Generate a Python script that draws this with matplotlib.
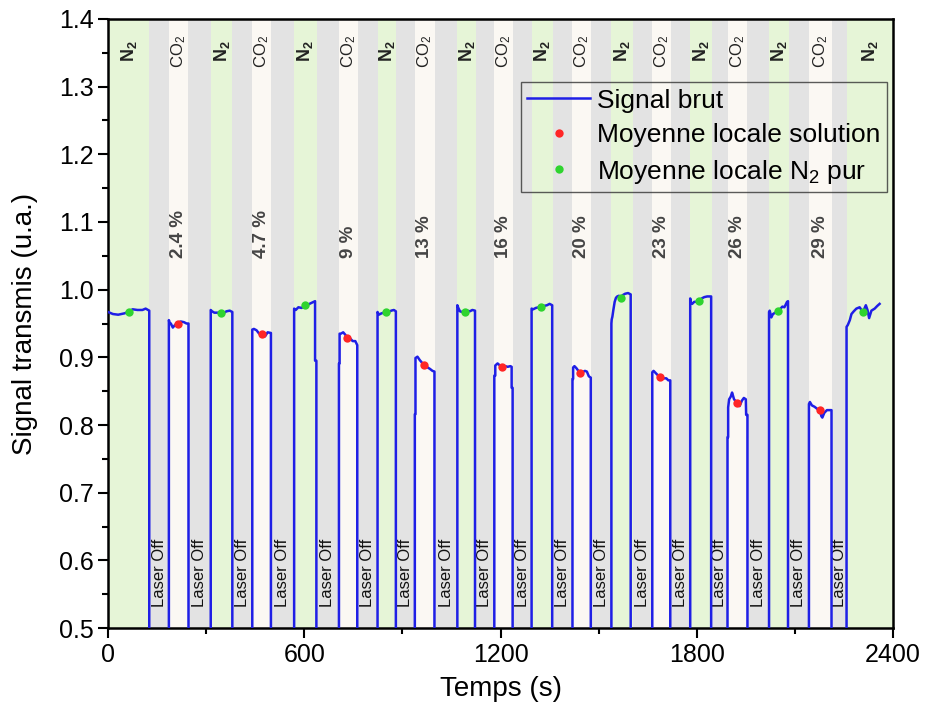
import numpy as np
import matplotlib
matplotlib.use('Agg')
import matplotlib.pyplot as plt
from matplotlib.ticker import MultipleLocator

plt.rcParams['font.family'] = ['Liberation Sans', 'DejaVu Sans']
plt.rcParams['mathtext.fontset'] = 'custom'
plt.rcParams['mathtext.rm'] = 'Liberation Sans'
plt.rcParams['mathtext.it'] = 'Liberation Sans:italic'
plt.rcParams['mathtext.bf'] = 'Liberation Sans:bold'

# gas sequence bands (s): N2, off, CO2, off, N2, ...
band_edges = [0, 126, 186, 246, 314, 380, 441, 498, 569, 638, 706, 763, 824, 880,
              938, 999, 1068, 1124, 1181, 1237, 1295, 1361, 1420, 1478, 1539, 1605,
              1664, 1720, 1780, 1848, 1894, 1955, 2021, 2082, 2143, 2212, 2258, 2400]
band_kind = ['N2', 'off', 'CO2', 'off'] * 9 + ['N2']
co2_labels = ['2.4 %', '4.7 %', '9 %', '13 %', '16 %', '20 %', '23 %', '26 %', '29 %']

# raw signal, one list per laser-on segment
sig_t = [
    [0, 15, 31, 50, 62, 75, 90, 105, 115, 126],
    [186, 188, 192, 198, 205, 213, 222, 232, 240, 246],
    [314, 318, 325, 335, 344, 352, 362, 372, 380],
    [441, 446, 454, 462, 470, 480, 488, 498],
    [569, 574, 582, 592, 603, 612, 620, 633, 633, 637],
    [706, 708, 708, 712, 719, 726, 731, 740, 748, 756, 762],
    [824, 828, 836, 844, 850, 858, 866, 874, 880],
    [938, 940, 940, 946, 953, 960, 967, 974, 984, 992, 998],
    [1068, 1071, 1076, 1083, 1091, 1098, 1106, 1114, 1122],
    [1181, 1184, 1184, 1191, 1198, 1206, 1214, 1222, 1230, 1234, 1234, 1237],
    [1295, 1300, 1308, 1316, 1325, 1334, 1342, 1350, 1358],
    [1420, 1422, 1422, 1426, 1432, 1438, 1443, 1450, 1458, 1464, 1470, 1476],
    [1539, 1540, 1542, 1545, 1549, 1553, 1557, 1562, 1567, 1574, 1581, 1590, 1598],
    [1664, 1668, 1674, 1680, 1687, 1694, 1700, 1707, 1713, 1719],
    [1780, 1782, 1786, 1792, 1800, 1807, 1815, 1823, 1832, 1844],
    [1894, 1896, 1896, 1899, 1904, 1908, 1914, 1923, 1931, 1938, 1944, 1950, 1951, 1955],
    [2021, 2023, 2028, 2033, 2040, 2049, 2056, 2062, 2068, 2076, 2079],
    [2143, 2146, 2152, 2160, 2168, 2176, 2181, 2184, 2190, 2198, 2206, 2212],
    [2258, 2262, 2268, 2273, 2280, 2288, 2298, 2308, 2317, 2322, 2327, 2334, 2344, 2352, 2359],
]
sig_v = [
    [0.967, 0.964, 0.963, 0.965, 0.967, 0.971, 0.970, 0.970, 0.972, 0.969],
    [0.955, 0.951, 0.950, 0.944, 0.948, 0.950, 0.953, 0.952, 0.950, 0.950],
    [0.970, 0.968, 0.966, 0.966, 0.966, 0.965, 0.968, 0.969, 0.967],
    [0.941, 0.942, 0.940, 0.935, 0.934, 0.931, 0.937, 0.936],
    [0.972, 0.970, 0.974, 0.973, 0.977, 0.978, 0.980, 0.983, 0.895, 0.895],
    [0.891, 0.891, 0.935, 0.935, 0.937, 0.933, 0.929, 0.928, 0.924, 0.924, 0.918],
    [0.967, 0.963, 0.965, 0.966, 0.967, 0.967, 0.969, 0.970, 0.968],
    [0.816, 0.816, 0.899, 0.901, 0.896, 0.892, 0.889, 0.886, 0.883, 0.880, 0.879],
    [0.977, 0.973, 0.968, 0.967, 0.967, 0.969, 0.968, 0.970, 0.969],
    [0.873, 0.873, 0.888, 0.891, 0.888, 0.885, 0.887, 0.886, 0.887, 0.886, 0.855, 0.855],
    [0.972, 0.971, 0.973, 0.974, 0.975, 0.976, 0.977, 0.979, 0.977],
    [0.868, 0.868, 0.885, 0.887, 0.884, 0.880, 0.877, 0.878, 0.880, 0.879, 0.872, 0.870],
    [0.950, 0.956, 0.960, 0.970, 0.982, 0.988, 0.990, 0.991, 0.988, 0.992, 0.994, 0.995, 0.993],
    [0.878, 0.880, 0.877, 0.874, 0.871, 0.870, 0.869, 0.869, 0.866, 0.866],
    [0.987, 0.980, 0.979, 0.982, 0.982, 0.983, 0.987, 0.989, 0.990, 0.990],
    [0.782, 0.782, 0.826, 0.838, 0.842, 0.848, 0.838, 0.833, 0.828, 0.836, 0.840, 0.838, 0.815, 0.815],
    [0.967, 0.969, 0.959, 0.964, 0.966, 0.969, 0.972, 0.975, 0.974, 0.982, 0.983],
    [0.831, 0.834, 0.829, 0.827, 0.824, 0.822, 0.813, 0.811, 0.818, 0.822, 0.822, 0.822],
    [0.945, 0.948, 0.955, 0.964, 0.968, 0.972, 0.974, 0.967, 0.977, 0.970, 0.958, 0.969, 0.972, 0.976, 0.979],
]
laser_off_level = 0.0

# local means
sol_t = [213, 470, 731, 967, 1206, 1443, 1687, 1923, 2176]
sol_v = [0.950, 0.934, 0.929, 0.889, 0.885, 0.877, 0.871, 0.833, 0.822]
n2_t = [64, 344, 603, 850, 1091, 1325, 1567, 1807, 2049, 2308]
n2_v = [0.967, 0.966, 0.977, 0.967, 0.967, 0.975, 0.988, 0.983, 0.969, 0.967]

band_color = {'N2': '#e6f5d7', 'off': '#e3e3e3', 'CO2': '#fbf8f3'}

# build the full trace with drops to the laser-off level
t_all, v_all = [], []
for k, (ts, vs) in enumerate(zip(sig_t, sig_v)):
    if k > 0:
        t_all.append(ts[0]); v_all.append(laser_off_level)
    t_all += ts; v_all += vs
    if k < len(sig_t) - 1:
        t_all.append(ts[-1]); v_all.append(laser_off_level)

fig = plt.figure(figsize=(9.25, 7.11), dpi=100)
ax = fig.add_axes([0.1168, 0.1167, 0.8486, 0.8566])

i_co2 = 0
for i, kind in enumerate(band_kind):
    x0, x1 = band_edges[i], band_edges[i + 1]
    xc = 0.5 * (x0 + x1)
    ax.axvspan(x0, x1, color=band_color[kind], lw=0, zorder=0)
    if kind == 'N2':
        ax.text(xc, 1.352, r'$\mathbf{N_2}$', rotation=90, ha='center', va='center',
                fontsize=13, color='#222222')
    elif kind == 'CO2':
        ax.text(xc, 1.352, r'CO$_2$', rotation=90, ha='center', va='center',
                fontsize=12, color='#222222')
        ax.text(xc, 1.047, co2_labels[i_co2], rotation=90, ha='center', va='bottom',
                fontsize=13.5, fontweight='bold', color='#454545')
        i_co2 += 1
    else:
        ax.text(xc, 0.531, 'Laser Off', rotation=90, ha='center', va='bottom',
                fontsize=12, color='#111111')

ax.plot(t_all, v_all, color='#1f1fe6', lw=1.8, label='Signal brut', zorder=3)
ax.plot(sol_t, sol_v, 'o', color='#ff2626', ms=6, mec='none',
        label='Moyenne locale solution', zorder=4)
ax.plot(n2_t, n2_v, 'o', color='#2fd42f', ms=6, mec='none',
        label=r'Moyenne locale N$_2$ pur', zorder=4)

ax.set_xlim(0, 2400)
ax.set_ylim(0.5, 1.4)
ax.xaxis.set_major_locator(MultipleLocator(600))
ax.xaxis.set_minor_locator(MultipleLocator(300))
ax.yaxis.set_major_locator(MultipleLocator(0.1))
ax.yaxis.set_minor_locator(MultipleLocator(0.05))
ax.tick_params(which='major', direction='out', length=7, width=1.5, labelsize=18)
ax.tick_params(which='minor', direction='out', length=4, width=1.5)
for s in ax.spines.values():
    s.set_linewidth(1.8)

ax.set_xlabel('Temps (s)', fontsize=20, labelpad=7)
ax.set_ylabel('Signal transmis (u.a.)', fontsize=20, labelpad=15)

leg = fig.legend(loc='upper right', bbox_to_anchor=(887 / 925, 1 - 82 / 711),
                 fontsize=19, frameon=True, fancybox=False, edgecolor='#333333',
                 facecolor='none', framealpha=None, handlelength=2.4,
                 handletextpad=0.25, labelspacing=0.4, borderpad=0.25, borderaxespad=0)
leg.get_frame().set_linewidth(1.0)

fig.savefig('out.png', dpi=100)
